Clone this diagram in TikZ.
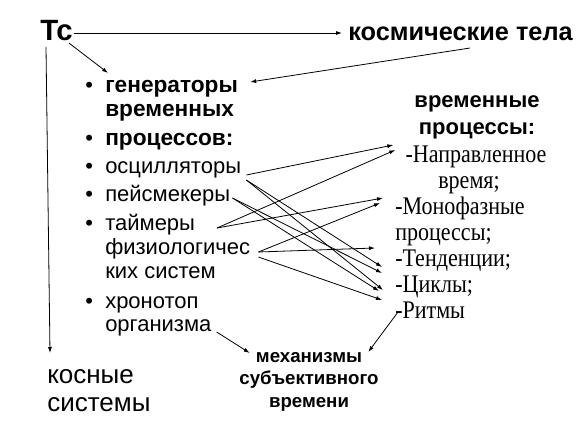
\documentclass[tikz,border=0pt]{standalone}
\usepackage{fontspec}
\setmainfont{Liberation Sans}
\newfontfamily\timesfont[FakeStretch=0.87]{Liberation Serif}
\usetikzlibrary{arrows.meta, calc}
\tikzset{
  title/.style={inner sep=0pt, anchor=base west, font=\fontsize{22}{26}\selectfont\bfseries},
  bolditem/.style={inner sep=0pt, anchor=base west, font=\fontsize{17}{18}\selectfont\bfseries},
  item/.style={inner sep=0pt, anchor=base west, font=\fontsize{16.5}{18}\selectfont},
  dot/.style={inner sep=0pt, anchor=base west, font=\fontsize{16.5}{18}\selectfont},
  heading/.style={inner sep=0pt, anchor=base, font=\fontsize{16.5}{18}\selectfont\bfseries},
  proc/.style={inner sep=0pt, anchor=base west, font=\fontsize{19}{19.5}\timesfont},
  mech/.style={inner sep=0pt, anchor=base, font=\fontsize{14}{17}\selectfont\bfseries},
  inert/.style={inner sep=0pt, anchor=base west, font=\fontsize{19.5}{21}\selectfont},
  arrow/.style={-{Latex[length=4.5pt, width=3pt]}, line width=0.6pt}
}
\begin{document}
\begin{tikzpicture}[x=0.75pt, y=-0.75pt]
\useasboundingbox (0,0) rectangle (582,432);
% top line
\node[title] (tc) at (40,40) {Тс};
\node[title, font=\fontsize{19}{22}\selectfont\bfseries] (kosm) at (348,40) {космические тела};
% generators of time processes
\node[dot] (b1) at (85,92) {•};
\node[bolditem] (gen) at (105,92) {генераторы};
\node[bolditem] (gen2) at (105,116) {временных};
\node[dot] (b2) at (85,145) {•};
\node[bolditem] (gen3) at (105,145) {процессов:};
\node[dot] (b3) at (85,173) {•};
\node[item] (osc) at (105,173) {осцилляторы};
\node[dot] (b4) at (85,201) {•};
\node[item] (peis) at (105,201) {пейсмекеры};
\node[dot] (b5) at (85,230) {•};
\node[item] (taim) at (105,230) {таймеры};
\node[item] (fiz) at (105,254) {физиологичес};
\node[item] (fiz2) at (105,278) {ких систем};
\node[dot] (b6) at (85,308) {•};
\node[item] (hron) at (105,308) {хронотоп};
\node[item] (org) at (105,331) {организма};
% time processes
\node[heading] (head) at (477,107) {временные};
\node[heading] (head2) at (477,134) {процессы:};
\node[proc, anchor=base] (napr) at (476,162) {-Направленное};
\node[proc, anchor=base] (napr2) at (469,188) {время;};
\node[proc] (mono) at (395,214) {-Монофазные};
\node[proc] (mono2) at (395,240) {процессы;};
\node[proc] (tend) at (395,266) {-Тенденции;};
\node[proc] (cikl) at (395,292) {-Циклы;};
\node[proc] (ritm) at (395,318) {-Ритмы};
% bottom
\node[mech] (mech) at (309,362) {механизмы};
\node[mech] (mech2) at (309,384) {субъективного};
\node[mech] (mech3) at (309,407) {времени};
\node[inert] (inert) at (47,383) {косные};
\node[inert] (inert2) at (47,411) {системы};
% connectors
\draw[arrow] ($(tc.base east)+(1,-7)$) -- ($(kosm.base west)+(-6,-7)$);
\draw[arrow] ($(tc.base east)+(-4,3)$) -- ($(gen.base west)+(3,-19)$);
\draw[arrow] ($(tc.base west)+(6,7)$) -- ($(inert.base west)+(3,-30)$);
\draw[arrow] ($(kosm.base west)+(122,8)$) -- ($(gen.base east)+(12,-10)$);
\draw[arrow] ($(osc.base east)+(5,2)$) -- ($(napr.base west)+(-12,-17)$);
\draw[arrow] ($(osc.base east)+(5,7)$) -- ($(cikl.base west)+(-13,-25)$);
\draw[arrow] ($(osc.base east)+(5,7)$) -- ($(ritm.base west)+(-12,-28)$);
\draw[arrow] ($(peis.base east)+(2,-3)$) -- ($(cikl.base west)+(-13,-19)$);
\draw[arrow] ($(peis.base east)+(2,-3)$) -- ($(ritm.base west)+(-16,-27)$);
\draw[arrow] ($(taim.base west)+(112,-2)$) -- ($(napr.base west)+(-10,-12)$);
\draw[arrow] ($(taim.base west)+(112,-2)$) -- ($(mono.base west)+(-12,-16)$);
\draw[arrow] ($(fiz.base east)+(8,-2)$) -- ($(mono.base west)+(-15,-11)$);
\draw[arrow] ($(fiz.base east)+(8,-2)$) -- ($(tend.base west)+(-20,-18)$);
\draw[arrow] ($(fiz.base east)+(8,3)$) -- ($(ritm.base west)+(-13,-18)$);
\draw[arrow] ($(org.base east)+(5,1)$) -- ($(mech.base west)+(-6,-9)$);
\draw[arrow] ($(ritm.base west)+(3,-6)$) -- ($(mech.base east)+(6,-10)$);
\end{tikzpicture}
\end{document}
